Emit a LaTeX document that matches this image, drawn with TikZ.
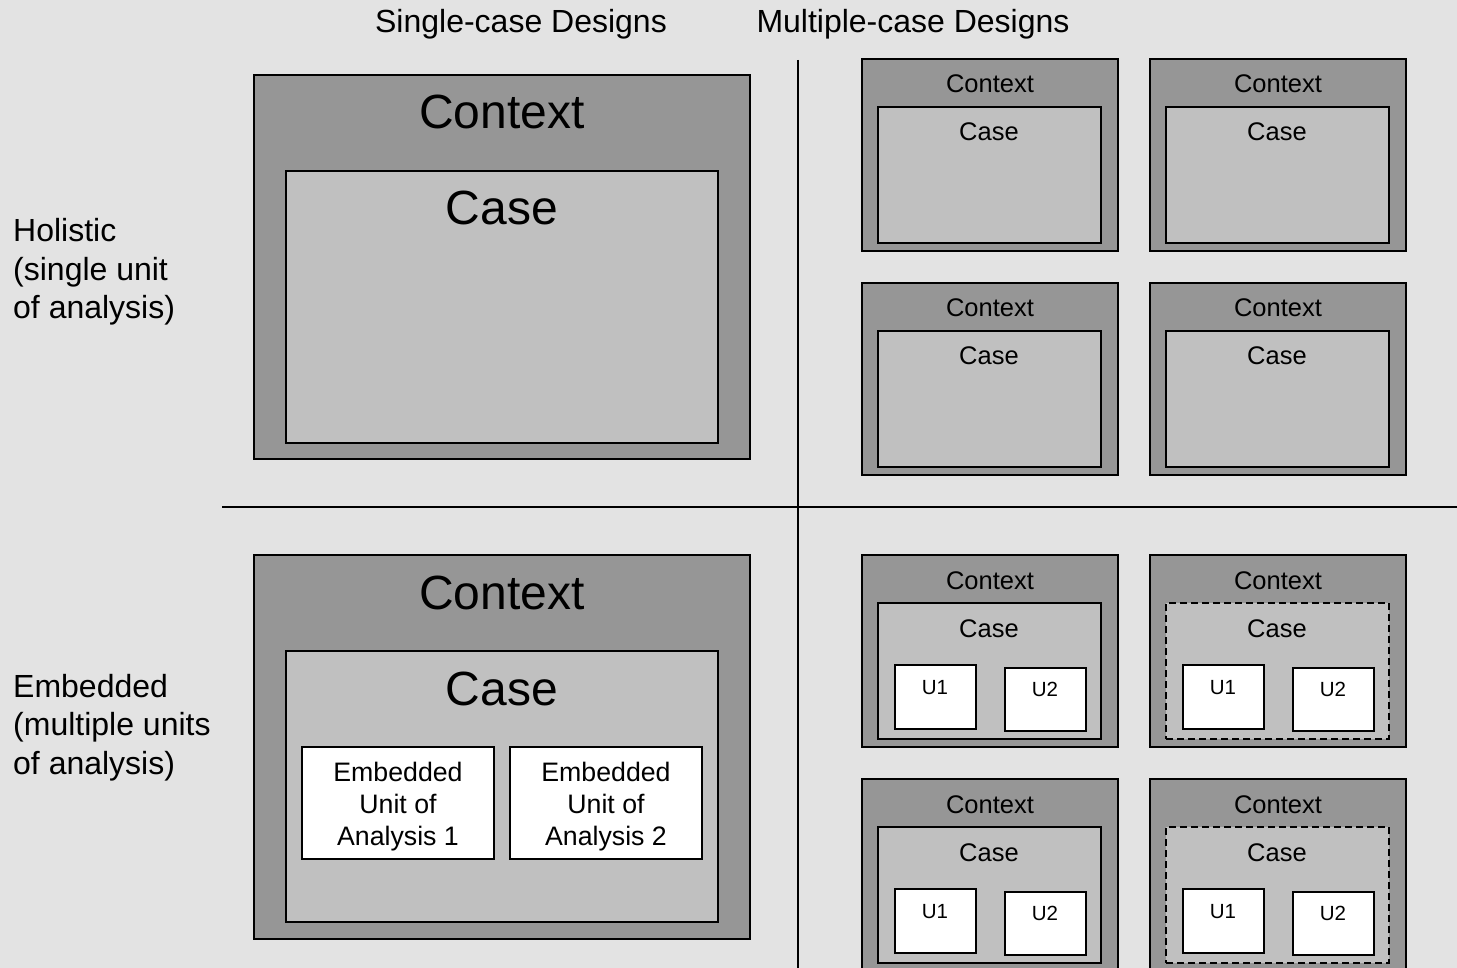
\documentclass[tikz,border=0pt]{standalone}
\usepackage{fontspec}
\setmainfont{Liberation Sans}
\usetikzlibrary{fit}
\definecolor{bg}{HTML}{E3E3E3}
\definecolor{ctxc}{HTML}{969696}
\definecolor{casec}{HTML}{C0C0C0}
\begin{document}
\begin{tikzpicture}[x=1pt,y=-1pt,
  ctx/.style={draw=black, line width=1.6pt, fill=ctxc, rectangle, inner sep=0pt, outer sep=0pt},
  casebox/.style={draw=black, line width=1.6pt, fill=casec, rectangle, inner sep=0pt, outer sep=0pt},
  dashcase/.style={casebox, dash pattern=on 7pt off 4pt},
  unitbox/.style={draw=black, line width=1.6pt, fill=white, rectangle, inner sep=0pt, outer sep=0pt},
  grid/.style={draw=black, line width=1.4pt},
  bigtxt/.style={font=\fontsize{48}{57}\selectfont, inner sep=0pt},
  smalltxt/.style={font=\fontsize{25.5}{31}\selectfont, inner sep=0pt},
  utxt/.style={font=\fontsize{20.5}{25}\selectfont, inner sep=0pt},
  emtxt/.style={font=\fontsize{26.7}{32}\selectfont, inner sep=0pt, align=center},
  lbl/.style={font=\fontsize{32}{38.5}\selectfont, inner sep=0pt, align=left},
  head/.style={font=\fontsize{32}{38}\selectfont, inner sep=0pt}
]
\useasboundingbox (0,0) rectangle (1457,968);
\fill[bg] (0,0) rectangle (1457,968);
\clip (0,0) rectangle (1457,968);

% grid lines
\coordinate (vtop) at (798,60);
\coordinate (vbot) at (798,968);
\coordinate (hleft) at (222,507);
\coordinate (hright) at (1457,507);
\draw[grid] (vtop) -- (vbot);
\draw[grid] (hleft) -- (hright);

% headers
\node[head, anchor=base] (hsingle) at (521,33) {Single-case Designs};
\node[head, anchor=base] (hmulti) at (913,33) {Multiple-case Designs};

% row labels (base anchor = last line)
\node[lbl, anchor=base west] (lholistic) at (13,319) {Holistic\\(single unit\\of analysis)};
\node[lbl, anchor=base west] (lembedded) at (13,774) {Embedded\\(multiple units\\of analysis)};

% single-case holistic
\node[ctx, fit={(254,75) (750,459)}] (shctx) {};
\node[casebox, fit={(286,171) (718,443)}] (shcase) {};
\node[bigtxt, anchor=base] (shctxt) at (502,129) {Context};
\node[bigtxt, anchor=base] (shcaset) at (502,225) {Case};

% single-case embedded
\node[ctx, fit={(254,555) (750,939)}] (sectx) {};
\node[casebox, fit={(286,651) (718,922)}] (secase) {};
\node[bigtxt, anchor=base] (sectxt) at (502,609) {Context};
\node[bigtxt, anchor=base] (secaset) at (502,705) {Case};
\node[unitbox, fit={(302,747) (494,859)}] (seu1) {};
\node[unitbox, fit={(510,747) (702,859)}] (seu2) {};
\node[emtxt, yshift=-4pt] (seu1t) at (seu1.center) {Embedded\\Unit of\\Analysis 1};
\node[emtxt, yshift=-4pt] (seu2t) at (seu2.center) {Embedded\\Unit of\\Analysis 2};

% multiple-case holistic
\foreach \px/\py/\nm in {862/59/ma, 1150/59/mb, 862/283/mc, 1150/283/md} {
  \node[ctx, fit={(\px,\py) (\px+256,\py+192)}] (\nm ctx) {};
  \node[casebox, fit={(\px+16,\py+48) (\px+239,\py+184)}] (\nm case) {};
  \node[smalltxt, anchor=base] (\nm ctxt) at (\px+128,\py+34) {Context};
  \node[smalltxt, anchor=base] (\nm caset) at (\px+127,\py+82) {Case};
}

% multiple-case embedded
\foreach \px/\py/\nm/\cs in {862/555/me/casebox, 1150/555/mf/dashcase, 862/779/mg/casebox, 1150/779/mh/dashcase} {
  \node[ctx, fit={(\px,\py) (\px+256,\py+192)}] (\nm ctx) {};
  \node[\cs, fit={(\px+16,\py+48) (\px+239,\py+184)}] (\nm case) {};
  \node[smalltxt, anchor=base] (\nm ctxt) at (\px+128,\py+34) {Context};
  \node[smalltxt, anchor=base] (\nm caset) at (\px+127,\py+82) {Case};
  \node[unitbox, fit={(\px+33,\py+110) (\px+114,\py+174)}] (\nm uone) {};
  \node[unitbox, fit={(\px+143,\py+113) (\px+224,\py+176)}] (\nm utwo) {};
  \node[utxt, anchor=base] (\nm uonet) at (\px+73,\py+139) {U1};
  \node[utxt, anchor=base] (\nm utwot) at (\px+183,\py+141) {U2};
}
\end{tikzpicture}
\end{document}
